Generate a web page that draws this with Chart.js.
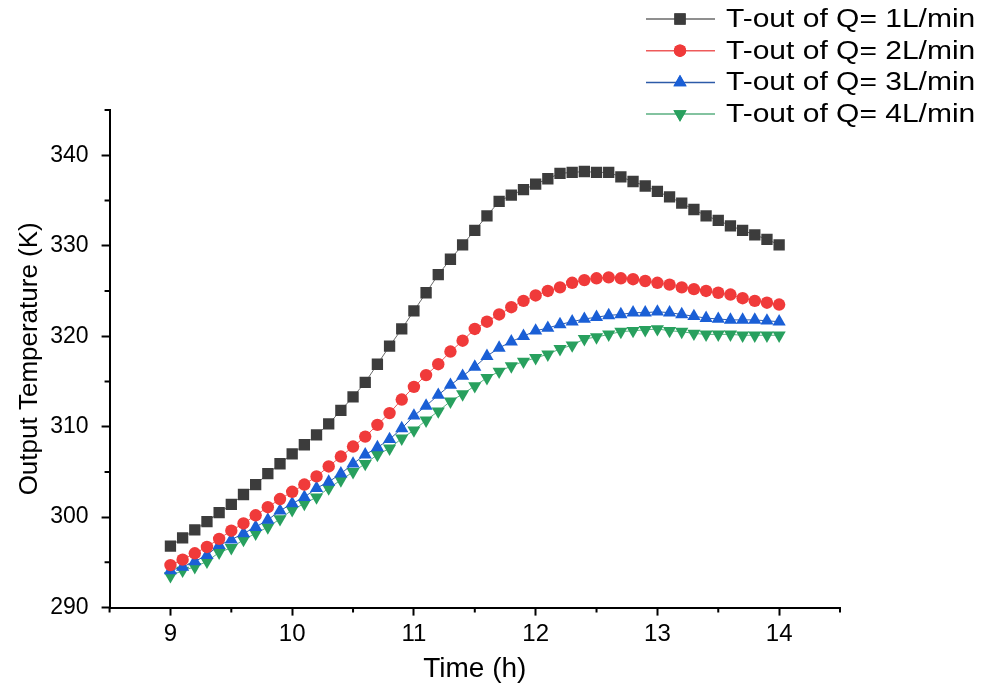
<!DOCTYPE html>
<html>
<head>
<meta charset="utf-8">
<script src="https://cdn.jsdelivr.net/npm/chart.js@4"></script>
<style>
  html, body { margin: 0; padding: 0; background: #fff; }
  #wrap { width: 985px; height: 690px; }
</style>
</head>
<body>
<div id="wrap"><canvas id="tempChart" width="985" height="690"></canvas></div>
<script>
// time axis, 9:00 to 14:00 every 0.1 h
const hours = [9.0, 9.1, 9.2, 9.3, 9.4, 9.5, 9.6, 9.7, 9.8, 9.9,
  10.0, 10.1, 10.2, 10.3, 10.4, 10.5, 10.6, 10.7, 10.8, 10.9,
  11.0, 11.1, 11.2, 11.3, 11.4, 11.5, 11.6, 11.7, 11.8, 11.9,
  12.0, 12.1, 12.2, 12.3, 12.4, 12.5, 12.6, 12.7, 12.8, 12.9,
  13.0, 13.1, 13.2, 13.3, 13.4, 13.5, 13.6, 13.7, 13.8, 13.9, 14.0];

// outlet temperature (K) for each flow rate
const tQ1 = [296.8, 297.7, 298.6, 299.5, 300.5, 301.4, 302.5, 303.6, 304.8, 305.9,
  307.0, 308.0, 309.1, 310.3, 311.8, 313.3, 314.9, 316.9, 318.9, 320.8,
  322.8, 324.8, 326.8, 328.5, 330.1, 331.7, 333.3, 334.9, 335.6, 336.2,
  336.8, 337.4, 338.0, 338.1, 338.2, 338.1, 338.1, 337.6, 337.1, 336.6,
  336.0, 335.4, 334.7, 334.0, 333.3, 332.8, 332.2, 331.7, 331.2, 330.7, 330.1];
const tQ2 = [294.7, 295.3, 296.0, 296.7, 297.6, 298.5, 299.3, 300.2, 301.1, 302.0,
  302.8, 303.6, 304.5, 305.6, 306.7, 307.8, 308.9, 310.2, 311.5, 313.0,
  314.4, 315.7, 316.9, 318.3, 319.5, 320.8, 321.6, 322.4, 323.2, 323.9,
  324.5, 325.0, 325.4, 325.9, 326.2, 326.4, 326.5, 326.4, 326.3, 326.1,
  325.9, 325.7, 325.4, 325.2, 325.0, 324.8, 324.6, 324.2, 323.9, 323.7, 323.5];
const tQ3 = [294.1, 294.5, 295.1, 295.8, 296.9, 297.5, 298.2, 298.9, 299.7, 300.7,
  301.5, 302.2, 303.2, 303.9, 304.8, 305.9, 306.9, 307.7, 308.6, 309.8,
  311.2, 312.3, 313.5, 314.6, 315.6, 316.6, 317.8, 318.7, 319.4, 320.0,
  320.6, 320.9, 321.3, 321.6, 321.9, 322.1, 322.3, 322.4, 322.6, 322.6,
  322.7, 322.6, 322.4, 322.2, 322.0, 321.9, 321.8, 321.8, 321.8, 321.7, 321.6];
const tQ4 = [293.5, 294.1, 294.5, 295.1, 296.1, 296.6, 297.5, 298.2, 298.9, 299.8,
  300.8, 301.5, 302.2, 303.2, 304.1, 305.0, 305.9, 306.9, 307.6, 308.7,
  309.6, 310.7, 311.7, 312.8, 313.6, 314.5, 315.4, 316.1, 316.7, 317.2,
  317.6, 318.0, 318.6, 319.0, 319.7, 319.9, 320.2, 320.5, 320.6, 320.7,
  320.8, 320.6, 320.5, 320.3, 320.2, 320.2, 320.2, 320.1, 320.1, 320.1, 320.1];

const xTicks = [9, 10, 11, 12, 13, 14];
const yTicks = [290, 300, 310, 320, 330, 340];
const xMinorTicks = [8.5, 9.5, 10.5, 11.5, 12.5, 13.5, 14.5];
const yMinorTicks = [295, 305, 315, 325, 335, 345];

const seriesNames = ['T-out of Q= 1L/min', 'T-out of Q= 2L/min', 'T-out of Q= 3L/min', 'T-out of Q= 4L/min'];

const FONT = 'Liberation Sans, Arial, sans-serif';

function toPoints(ys) {
  return hours.map((h, i) => ({ x: h, y: ys[i] }));
}

const styles = [
  { line: '#6a6a6a', fill: '#3c3c3c', point: 'rect', radius: 8, rot: 0 },
  { line: '#ee5a5a', fill: '#f03a3a', point: 'circle', radius: 6.2, rot: 0 },
  { line: '#2c5aa8', fill: '#1a5fd6', point: 'triangle', radius: 7.6, rot: 0 },
  { line: '#5aaf80', fill: '#28a05e', point: 'triangle', radius: 7.6, rot: 180 }
];
const allSeries = [tQ1, tQ2, tQ3, tQ4];

const datasets = allSeries.map((ys, i) => ({
  label: seriesNames[i],
  data: toPoints(ys),
  borderColor: styles[i].line,
  borderWidth: 1,
  pointStyle: styles[i].point,
  pointRadius: styles[i].radius,
  pointRotation: styles[i].rot,
  pointBackgroundColor: styles[i].fill,
  pointBorderColor: styles[i].fill,
  pointBorderWidth: 0,
  tension: 0
}));

// minor ticks drawn along both axes
const minorTicks = {
  id: 'minorTicks',
  afterDraw(chart) {
    const ctx = chart.ctx;
    const xs = chart.scales.x, ys = chart.scales.y;
    const area = chart.chartArea;
    ctx.save();
    ctx.strokeStyle = '#000';
    ctx.lineWidth = 2;
    ctx.beginPath();
    xMinorTicks.forEach(v => {
      const px = xs.getPixelForValue(v);
      ctx.moveTo(px, area.bottom);
      ctx.lineTo(px, area.bottom + 5);
    });
    yMinorTicks.forEach(v => {
      const py = ys.getPixelForValue(v);
      ctx.moveTo(area.left, py);
      ctx.lineTo(area.left - 5, py);
    });
    ctx.stroke();
    ctx.restore();
  }
};

// legend block in the top right corner
const sideLegend = {
  id: 'sideLegend',
  afterDraw(chart) {
    const ctx = chart.ctx;
    ctx.save();
    ctx.font = '25px ' + FONT;
    ctx.textBaseline = 'middle';
    seriesNames.forEach((name, i) => {
      const y = 19 + i * 31.7;
      const st = styles[i];
      ctx.strokeStyle = st.line;
      ctx.lineWidth = 1.5;
      ctx.beginPath();
      ctx.moveTo(646, y);
      ctx.lineTo(715, y);
      ctx.stroke();
      ctx.fillStyle = st.fill;
      ctx.beginPath();
      Chart.helpers.drawPoint(ctx, {
        pointStyle: st.point, radius: st.radius, rotation: st.rot, borderWidth: 0
      }, 680, y);
      ctx.fill();
      // text is a little wider than the regular face
      ctx.save();
      ctx.translate(726, y + 1);
      ctx.scale(1.2, 1);
      ctx.fillStyle = '#000';
      ctx.fillText(name, 0, 0);
      ctx.restore();
    });
    ctx.restore();
  }
};

const ctx = document.getElementById('tempChart').getContext('2d');
new Chart(ctx, {
  type: 'line',
  data: { datasets: datasets },
  options: {
    responsive: false,
    animation: false,
    layout: { padding: { top: 110, right: 145, left: 0, bottom: 0 } },
    plugins: {
      legend: { display: false },
      tooltip: { enabled: false }
    },
    scales: {
      x: {
        type: 'linear',
        min: 8.5,
        max: 14.5,
        afterBuildTicks: scale => { scale.ticks = xTicks.map(v => ({ value: v })); },
        grid: { drawOnChartArea: false, tickLength: 8, tickWidth: 2, tickColor: '#000' },
        border: { color: '#000', width: 2 },
        ticks: { color: '#000', font: { family: FONT, size: 24 }, padding: 4, maxRotation: 0 },
        title: { display: true, text: 'Time (h)', color: '#000', font: { family: FONT, size: 28 }, padding: { top: 0, bottom: 4 } }
      },
      y: {
        type: 'linear',
        min: 290,
        max: 345,
        afterBuildTicks: scale => { scale.ticks = yTicks.map(v => ({ value: v })); },
        grid: { drawOnChartArea: false, tickLength: 8, tickWidth: 2, tickColor: '#000' },
        border: { color: '#000', width: 2 },
        ticks: { color: '#000', font: { family: FONT, size: 23 }, padding: 13 },
        title: { display: true, text: 'Output Temperature (K)', color: '#000', font: { family: FONT, size: 26 }, padding: { top: 14, bottom: -8 } }
      }
    }
  },
  plugins: [minorTicks, sideLegend]
});
</script>
</body>
</html>
